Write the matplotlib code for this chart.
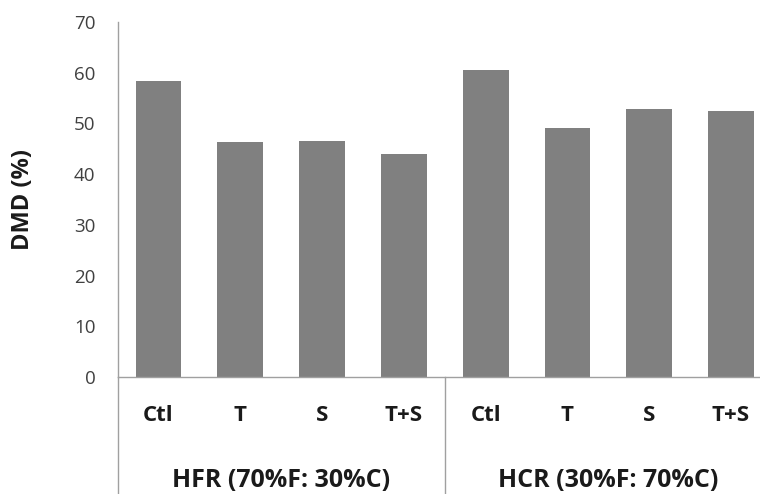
import numpy as np
import matplotlib.pyplot as plt
from matplotlib.transforms import blended_transform_factory

categories = ['Ctl', 'T', 'S', 'T+S', 'Ctl', 'T', 'S', 'T+S']
dmd = [58.4, 46.4, 46.5, 44.0, 60.5, 49.0, 52.9, 52.4]
groups = ['HFR (70%F: 30%C)', 'HCR (30%F: 70%C)']
yticks = [0, 10, 20, 30, 40, 50, 60, 70]

plt.rcParams['font.family'] = ['Open Sans', 'DejaVu Sans']

fig = plt.figure(figsize=(7.6, 4.94), dpi=100)
ax = fig.add_axes([0.1547, 0.2368, 0.861, 0.7187])

x = np.arange(len(categories))
ax.bar(x, dmd, width=0.56, color='#808080', zorder=2)

ax.set_xlim(-0.5, len(categories) - 0.5)
ax.set_ylim(0, 70)
ax.set_yticks(yticks)
ax.tick_params(axis='y', length=0, pad=16, labelsize=13.5, labelcolor='#404040')
ax.set_xticks([])

for side in ['top', 'right']:
    ax.spines[side].set_visible(False)
for side in ['left', 'bottom']:
    ax.spines[side].set_color('#a0a0a0')
    ax.spines[side].set_linewidth(1.0)

ax.set_ylabel('DMD (%)', fontsize=17, fontweight='bold', color='#1a1a1a')
ax.yaxis.set_label_coords(-0.126, 0.5)

# category and group labels below the axis
trans = blended_transform_factory(ax.transData, fig.transFigure)
for xi, lab in zip(x, categories):
    ax.text(xi, 0.158, lab, transform=trans, ha='center', va='center',
            fontsize=16, fontweight='bold', color='#1a1a1a')
for gi, g in enumerate(groups):
    ax.text(gi * 4 + 1.5, 0.027, g, transform=trans, ha='center', va='center',
            fontsize=18, fontweight='bold', color='#1a1a1a')

# group separator lines
trans2 = blended_transform_factory(ax.transData, ax.transAxes)
for sx in [-0.5, 3.5, 7.5]:
    ax.plot([sx, sx], [0, -0.34], transform=trans2, color='#a0a0a0',
            linewidth=1.0, clip_on=False)

fig.savefig('out.png', dpi=100)
